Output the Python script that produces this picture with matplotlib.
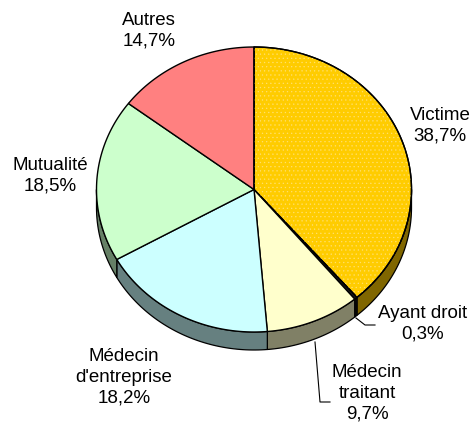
import numpy as np
import matplotlib.pyplot as plt
from matplotlib.patches import Polygon

# données
categories = ["Victime", "Ayant droit", "Médecin\ntraitant", "Médecin\nd'entreprise", "Mutualité", "Autres"]
values = [38.7, 0.3, 9.7, 18.2, 18.5, 14.7]
pct_labels = ["38,7%", "0,3%", "9,7%", "18,2%", "18,5%", "14,7%"]

top_colors = ["#FFCC00", "#1A1A1A", "#FFFFCC", "#CCFFFF", "#CCFFCC", "#FF8080"]
side_colors = ["#806600", "#0D0D0D", "#808066", "#668080", "#668066", "#804040"]

plt.rcParams["hatch.linewidth"] = 0.4

# géométrie (coordonnées pixels)
cx, cy = 254, 189.5
rx, ry = 157.5, 142.5
depth = 18

fig = plt.figure(figsize=(4.74, 4.25), dpi=100)
ax = fig.add_axes([0, 0, 1, 1])
ax.set_xlim(0, 474)
ax.set_ylim(425, 0)
ax.axis("off")


def pt(theta, dy=0):
    t = np.radians(theta)
    return cx + rx * np.sin(t), cy - ry * np.cos(t) + dy


total = sum(values)
bounds = np.concatenate([[0], np.cumsum(values) / total * 360])

# faces latérales (partie avant : 90° -> 270°)
for i in range(len(values)):
    a0, a1 = max(bounds[i], 90), min(bounds[i + 1], 270)
    if a1 <= a0:
        continue
    th = np.linspace(a0, a1, 60)
    top = [pt(t) for t in th]
    bot = [pt(t, depth) for t in th[::-1]]
    ax.add_patch(Polygon(top + bot, closed=True, facecolor=side_colors[i],
                         edgecolor="black", linewidth=0.9, zorder=1))

# faces supérieures
for i in range(len(values)):
    th = np.linspace(bounds[i], bounds[i + 1], max(int(values[i] * 4), 3))
    verts = [(cx, cy)] + [pt(t) for t in th]
    ax.add_patch(Polygon(verts, closed=True, facecolor=top_colors[i],
                         edgecolor="black", linewidth=1.0, zorder=2))
    if i == 0:
        ax.add_patch(Polygon(verts, closed=True, facecolor="none",
                             edgecolor="#FFE070", hatch="....", linewidth=0, zorder=3))
        ax.add_patch(Polygon(verts, closed=True, facecolor="none",
                             edgecolor="black", linewidth=1.0, zorder=4))

# étiquettes
font = dict(family=["Liberation Sans", "DejaVu Sans"], fontsize=13.5, color="black",
            ha="center", va="center", linespacing=1.3)
label_pos = [(440, 126), (423, 324), (367, 393), (124, 377), (50, 176), (149, 31)]
for name, pct, (x, y) in zip(categories, pct_labels, label_pos):
    ax.text(x, y, name + "\n" + pct, zorder=5, **font)

# lignes de rappel
ax.plot([356, 365, 375], [318, 325, 325], color="black", linewidth=0.8, zorder=5)
ax.plot([315, 320, 330], [342, 402, 402], color="black", linewidth=0.8, zorder=5)

fig.savefig("out.png", dpi=100)
